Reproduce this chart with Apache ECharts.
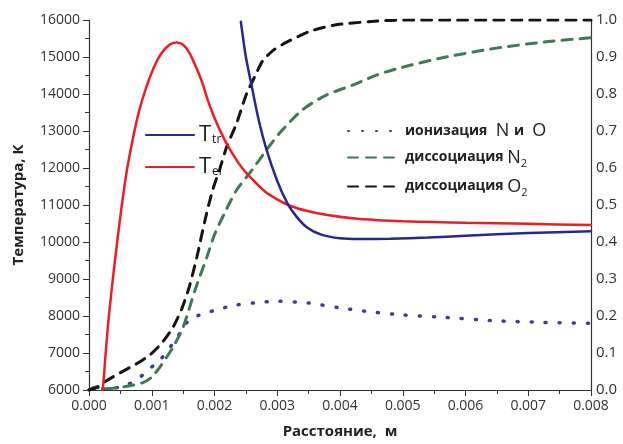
<!DOCTYPE html>
<html>
<head>
<meta charset="utf-8">
<script src="https://cdn.jsdelivr.net/npm/echarts@6/dist/echarts.min.js"></script>
<style>
  html, body { margin: 0; padding: 0; background: #fff; }
  #chart { width: 623px; height: 444px; }
</style>
</head>
<body>
<div id="chart"></div>
<script>
// [x (m), T (K)] - left axis
const tTr = [
  [0.00242, 15950], [0.0025, 15000], [0.00259, 14240], [0.0027, 13330], [0.00283, 12490],
  [0.003, 11650], [0.00316, 11050], [0.0033, 10700], [0.00347, 10400], [0.0037, 10200],
  [0.004, 10100], [0.0043, 10080], [0.0048, 10090], [0.0054, 10120], [0.006, 10170],
  [0.007, 10240], [0.008, 10290]
];
const tEl = [
  [0.00022, 6000], [0.0003, 7700], [0.0004, 9300], [0.0005, 10700], [0.0006, 11900],
  [0.0007, 12800], [0.0008, 13550], [0.0009, 14120], [0.001, 14580], [0.0011, 14950],
  [0.0012, 15200], [0.0013, 15350], [0.0014, 15390], [0.0015, 15330], [0.0016, 15110],
  [0.0017, 14750], [0.0018, 14330], [0.0019, 13800], [0.002, 13350], [0.00215, 12800],
  [0.0023, 12350], [0.00245, 11980], [0.0026, 11700], [0.0028, 11370], [0.003, 11150],
  [0.0032, 10980], [0.0035, 10830], [0.0038, 10730], [0.0042, 10640], [0.0046, 10590],
  [0.005, 10560], [0.0055, 10540], [0.006, 10520], [0.007, 10490], [0.008, 10460]
];
// [x (m), fraction] - right axis
const ionNO = [
  [0, 0], [0.0001, 0.006], [0.0003, 0.002], [0.0006, 0.014], [0.00076, 0.027],
  [0.00094, 0.054], [0.00113, 0.081], [0.00126, 0.108], [0.00145, 0.154], [0.0016, 0.19],
  [0.0018, 0.205], [0.002, 0.215], [0.00235, 0.23], [0.0028, 0.238], [0.003, 0.24],
  [0.0035, 0.235], [0.004, 0.222], [0.0045, 0.211], [0.005, 0.203], [0.0056, 0.197],
  [0.0065, 0.187], [0.0072, 0.183], [0.008, 0.18]
];
const dissN2 = [
  [0, 0], [0.0001, 0.008], [0.0002, 0.003], [0.00038, 0.005], [0.0006, 0.01],
  [0.00086, 0.02], [0.001, 0.035], [0.00113, 0.062], [0.00134, 0.116], [0.0015, 0.17],
  [0.00169, 0.27], [0.00188, 0.36], [0.002, 0.42], [0.00216, 0.478], [0.00235, 0.54],
  [0.00256, 0.586], [0.00283, 0.649], [0.00304, 0.695], [0.0034, 0.757], [0.00378, 0.797],
  [0.0042, 0.824], [0.00458, 0.851], [0.00494, 0.87], [0.00569, 0.9], [0.00649, 0.924],
  [0.00728, 0.941], [0.008, 0.952]
];
const dissO2 = [
  [0, 0], [0.0001, 0.005], [0.00025, 0.022], [0.0005, 0.047], [0.00075, 0.07],
  [0.00097, 0.095], [0.00116, 0.127], [0.00134, 0.17], [0.00148, 0.22], [0.0016, 0.28],
  [0.00172, 0.36], [0.00185, 0.46], [0.00197, 0.54], [0.00208, 0.595], [0.0022, 0.66],
  [0.00235, 0.72], [0.00251, 0.8], [0.00265, 0.85], [0.00277, 0.89], [0.00295, 0.92],
  [0.00315, 0.94], [0.0035, 0.968], [0.0039, 0.986], [0.0045, 0.996], [0.005, 1.0],
  [0.008, 1.0]
];

const font = '"Open Sans", "Noto Sans", sans-serif';
const chart = echarts.init(document.getElementById('chart'), null, { renderer: 'canvas' });

const line = (name, data, color, width, type, yIdx) => ({
  name: name,
  type: 'line',
  data: data,
  yAxisIndex: yIdx,
  smooth: 0.25,
  showSymbol: false,
  symbol: 'none',
  lineStyle: { color: color, width: width, type: type, cap: 'round' },
  itemStyle: { color: color }
});

chart.setOption({
  animation: false,
  grid: { left: 89, right: 32, top: 20, bottom: 54 },
  legend: [
    {
      data: ['Ttr', 'Tel'],
      orient: 'vertical',
      left: 140, top: 117,
      itemWidth: 48, itemHeight: 14, itemGap: 8,
      itemStyle: { opacity: 0 },
      formatter: n => n === 'Ttr' ? '{t|T}{s|tr}' : '{t|T}{s|el}',
      textStyle: {
        rich: {
          t: { fontFamily: font, fontSize: 22, color: '#222', lineHeight: 22 },
          s: { fontFamily: font, fontSize: 12, color: '#111', lineHeight: 12, verticalAlign: 'bottom', padding: [12, 2, 0, 1] }
        }
      }
    },
    {
      data: ['ion', 'n2', 'o2'],
      orient: 'vertical',
      left: 342, top: 117,
      itemWidth: 52, itemHeight: 12, itemGap: 6,
      itemStyle: { opacity: 0 },
      formatter: n => {
        if (n === 'ion') return '{b|ионизация }{n| N }{b|и }{n| O}';
        if (n === 'n2') return '{b|диссоциация }{n|N}{s|2}';
        return '{b|диссоциация }{n|O}{s|2}';
      },
      textStyle: {
        rich: {
          b: { fontFamily: font, fontSize: 14, fontWeight: 'bold', color: '#222', lineHeight: 18 },
          n: { fontFamily: font, fontSize: 18, color: '#222', lineHeight: 18 },
          s: { fontFamily: font, fontSize: 11, color: '#222', lineHeight: 11, padding: [12, 0, 0, 0] }
        }
      }
    }
  ],
  xAxis: {
    type: 'value',
    min: 0, max: 0.008, interval: 0.001,
    name: 'Расстояние,  м',
    nameLocation: 'middle',
    nameGap: 34,
    nameTextStyle: { fontFamily: font, fontSize: 15, fontWeight: 'bold', color: '#222' },
    axisLine: { show: true, lineStyle: { color: '#333', width: 1.2 } },
    axisTick: { show: true, length: 6, lineStyle: { color: '#333' } },
    minorTick: { show: true, splitNumber: 2, length: 4, lineStyle: { color: '#333' } },
    axisLabel: { fontFamily: font, fontSize: 14, color: '#333', margin: 9, formatter: v => v.toFixed(3) },
    splitLine: { show: false }
  },
  yAxis: [
    {
      type: 'value',
      min: 6000, max: 16000, interval: 1000,
      name: 'Температура, К',
      nameLocation: 'middle',
      nameGap: 63,
      nameTextStyle: { fontFamily: font, fontSize: 15, fontWeight: 'bold', color: '#222' },
      axisLine: { show: true, lineStyle: { color: '#333', width: 1.2 } },
      axisTick: { show: true, length: 6, lineStyle: { color: '#333' } },
      minorTick: { show: true, splitNumber: 2, length: 4, lineStyle: { color: '#333' } },
      axisLabel: { fontFamily: font, fontSize: 14, color: '#333', margin: 9, formatter: v => String(v) },
      splitLine: { show: false }
    },
    {
      type: 'value',
      position: 'right',
      min: 0, max: 1, interval: 0.1,
      axisLine: { show: true, lineStyle: { color: '#333', width: 1.2 } },
      axisTick: { show: false },
      axisLabel: { fontFamily: font, fontSize: 15, color: '#333', margin: 5, formatter: v => v.toFixed(1) },
      splitLine: { show: false }
    }
  ],
  series: [
    line('ion', ionNO, '#3b3f8c', 3.5, [1, 13], 1),
    line('n2', dissN2, '#3d7a58', 3, [10, 8], 1),
    line('o2', dissO2, '#151515', 3, [10, 8], 1),
    line('Tel', tEl, '#ee1c24', 2.5, 'solid', 0),
    line('Ttr', tTr, '#27288e', 2.5, 'solid', 0)
  ]
});
</script>
</body>
</html>
